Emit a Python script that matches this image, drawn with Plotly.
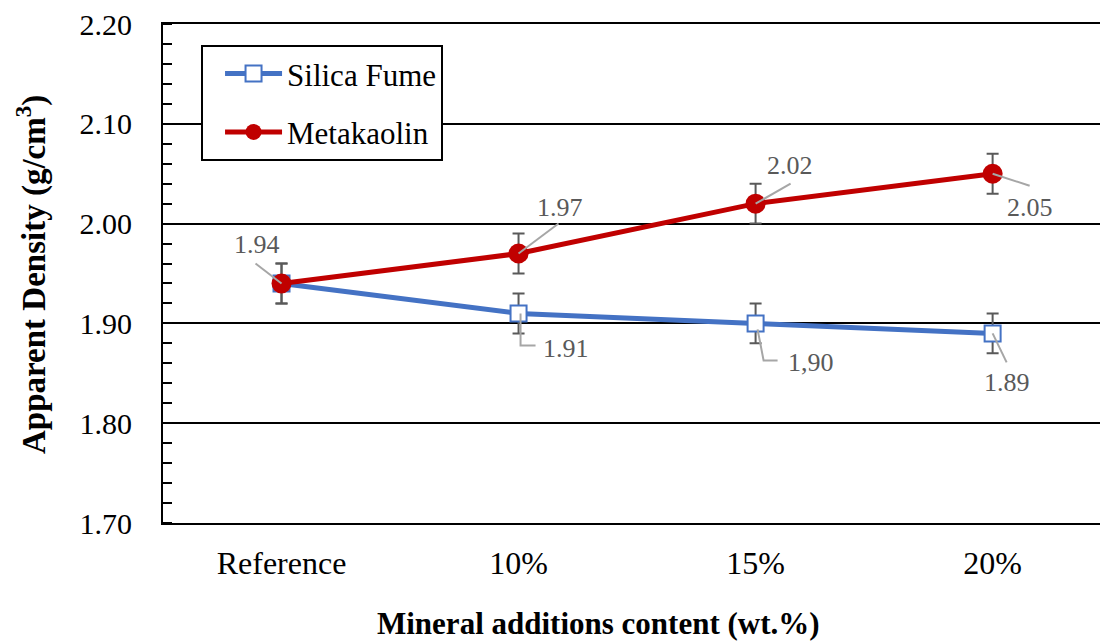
import plotly.graph_objects as go

# Data
categories = ["Reference", "10%", "15%", "20%"]
silica_fume = [1.94, 1.91, 1.90, 1.89]
metakaolin = [1.94, 1.97, 2.02, 2.05]
silica_err = [0.02, 0.02, 0.02, 0.02]
metakaolin_err = [0.02, 0.02, 0.02, 0.02]
silica_labels = ["", "1.91", "1,90", "1.89"]
metakaolin_labels = ["1.94", "1.97", "2.02", "2.05"]
y_ticks = [1.70, 1.80, 1.90, 2.00, 2.10, 2.20]

SERIF = "Liberation Serif"
BLUE = "#4472C4"
RED = "#C00000"
ERR = "#595959"
LABEL = "#595959"
LEADER = "#A6A6A6"

fig = go.Figure()

fig.add_trace(go.Scatter(
    x=categories, y=silica_fume, name="Silica Fume", mode="lines+markers",
    line=dict(color=BLUE, width=5),
    marker=dict(symbol="square", size=16, color="white", line=dict(color=BLUE, width=2)),
    error_y=dict(type="data", array=silica_err, color=ERR, thickness=2, width=6),
    legendgroup="sf",
))
fig.add_trace(go.Scatter(
    x=categories, y=metakaolin, name="Metakaolin", mode="lines+markers",
    line=dict(color=RED, width=5),
    marker=dict(symbol="circle", size=20, color=RED),
    error_y=dict(type="data", array=metakaolin_err, color=ERR, thickness=2, width=6),
    legendgroup="mk",
))

# Data labels: (text offset dx, dy) and leader path in pixels (y up)
mk_layout = [
    ((-25, 39), "M0,0 L-26,20"),
    ((41, 46), "M0,0 L40,30"),
    ((34, 38), "M0,0 L35,20"),
    ((37, -34), "M0,0 L37,-12"),
]
sf_layout = [
    None,
    ((47, -35), "M2,0 L2,-32 L17,-32"),
    ((55, -39), "M2,-6 L8,-37 L22,-37"),
    ((14, -49), "M0,0 L14,-29"),
]

def add_labels(values, labels, layout):
    for cat, val, txt, spec in zip(categories, values, labels, layout):
        if spec is None or not txt:
            continue
        (dx, dy), path = spec
        fig.add_shape(type="path", xref="x", yref="y",
                      xsizemode="pixel", ysizemode="pixel",
                      xanchor=cat, yanchor=val, path=path,
                      line=dict(color=LEADER, width=2), layer="above")
        fig.add_annotation(x=cat, y=val, xref="x", yref="y", text=txt,
                           showarrow=False, xshift=dx, yshift=dy,
                           font=dict(family=SERIF, size=26, color=LABEL))

add_labels(metakaolin, metakaolin_labels, mk_layout)
add_labels(silica_fume, silica_labels, sf_layout)

fig.update_layout(
    width=1100, height=642,
    margin=dict(l=163, r=0, t=24, b=119),
    paper_bgcolor="white", plot_bgcolor="white",
    font=dict(family=SERIF, color="black"),
    showlegend=True,
    legend=dict(
        x=0.0406, y=0.958, xanchor="left", yanchor="top",
        bgcolor="white", bordercolor="black", borderwidth=2,
        font=dict(family=SERIF, size=31, color="black"),
        tracegroupgap=15, itemwidth=57, indentation=17,
    ),
    xaxis=dict(
        type="category", range=[-0.5, 3.453],
        showline=True, linecolor="black", linewidth=2, mirror=True,
        showgrid=False, ticks="", tickfont=dict(family=SERIF, size=32, color="black"),
        ticklabelstandoff=11,
    ),
    yaxis=dict(
        range=[1.70, 2.20], tickvals=y_ticks, tickformat=".2f",
        showgrid=True, gridcolor="black", gridwidth=2,
        showline=True, linecolor="black", linewidth=2,
        zeroline=False, ticks="",
        tickfont=dict(family=SERIF, size=30, color="black"),
        ticklabelstandoff=23,
        minor=dict(dtick=0.02, ticks="inside", ticklen=9, tickwidth=2,
                   tickcolor="black", showgrid=False),
    ),
)

fig.add_annotation(
    xref="paper", yref="paper", x=(598 - 163) / 937, y=-(623 - 523) / 499,
    text="<b>Mineral additions content (wt.%)</b>", showarrow=False,
    font=dict(family=SERIF, size=31, color="black"), yanchor="middle",
)
fig.add_annotation(
    xref="paper", yref="paper", x=-(163 - 31) / 937, y=(523 - 275) / 499,
    text="<b>Apparent Density (g/cm<sup>3</sup>)</b>", showarrow=False, textangle=-90,
    font=dict(family=SERIF, size=33, color="black"), xanchor="center", yanchor="middle",
)

fig.write_html("out.html")
